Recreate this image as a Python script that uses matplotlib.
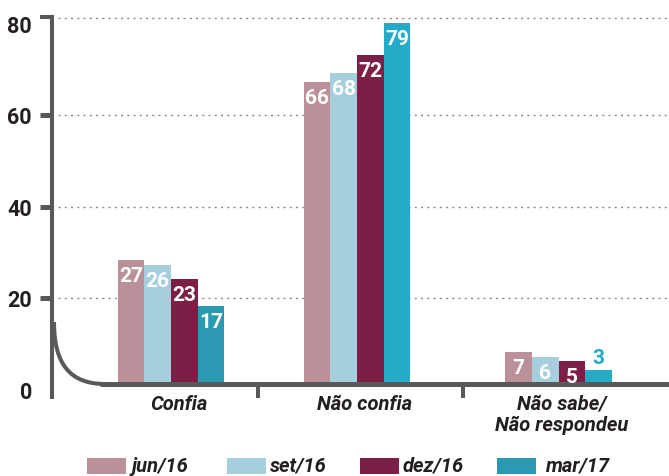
import matplotlib
matplotlib.use('Agg')
import matplotlib.pyplot as plt
from matplotlib.patches import Rectangle, PathPatch
from matplotlib.path import Path

# ---- data ----
categories = ['Confia', 'Não confia', 'Não sabe/\nNão respondeu']
series = ['jun/16', 'set/16', 'dez/16', 'mar/17']
jun16 = [27, 66, 7]
set16 = [26, 68, 6]
dez16 = [23, 72, 5]
mar17 = [17, 79, 3]
yticks = [0, 20, 40, 60, 80]

# ---- style ----
plt.rcParams['font.family'] = ['Roboto', 'DejaVu Sans']
colors = ['#BB9199', '#A6CFDD', '#7B1F47', '#2B99B1']
mar_colors = ['#2B99B1', '#23ABC7', '#23ABC7']
axc = '#58595B'
txtc = '#231F20'

W, H = 669, 477
fig = plt.figure(figsize=(W / 100, H / 100), dpi=100)
top_px, bot_px = 16, 400
ax = fig.add_axes([52 / W, 1 - bot_px / H, (W - 52) / W, (bot_px - top_px) / H])


def v(p):
    """pixel row -> data value"""
    return (390.5 - p) / 4.575


ax.set_xlim(52, 669)
ax.set_ylim(v(bot_px), v(top_px))
for s in ax.spines.values():
    s.set_visible(False)
ax.set_xticks([])
ax.set_yticks(yticks)
ax.set_yticklabels([str(t) for t in yticks], fontsize=15.5, fontweight='bold', color=txtc)
ax.tick_params(axis='y', length=8.6, width=3.6, color=axc, pad=5.8)
ticks = ax.yaxis.get_major_ticks()
ticks[0].tick1line.set_visible(False)
ticks[-1].tick1line.set_visible(False)

# left axis with top stub
ax.plot([40, 52, 52], [v(18.3), v(18.3), v(400)], color=axc, lw=2.9,
        solid_joinstyle='miter', solid_capstyle='butt', clip_on=False, zorder=5)

# dotted gridlines
for t in yticks[1:-1]:
    ax.plot([58, 669], [t, t], color='#8C8C8C', lw=1.0, ls=(0, (1.5, 3.0)), zorder=1, clip_on=False)
ax.plot([58, 669], [v(18.8)] * 2, color='#8C8C8C', lw=1.0, ls=(0, (1.5, 3.0)), zorder=1, clip_on=False)

# baseline and curve
base = v(385)
verts = [(54, v(323)), (54, v(365)), (70, v(385)), (105, v(385))]
curve = Path(verts, [Path.MOVETO, Path.CURVE4, Path.CURVE4, Path.CURVE4])
ax.add_patch(PathPatch(curve, fill=False, ec=axc, lw=2.9, zorder=5, clip_on=False))
ax.plot([100, 669], [base, base], color=axc, lw=3.6, solid_capstyle='butt', zorder=5, clip_on=False)
for tx in [257.5, 463]:
    ax.plot([tx, tx], [base, v(399)], color=axc, lw=2.9, solid_capstyle='butt', zorder=5, clip_on=False)

# bars
centers = [171, 357, 558.5]
label_x = [179, 365, 562]
bw = 26.6
offs = [-1.5, -0.5, 0.5, 1.5]
data = [jun16, set16, dez16, mar17]
for i, vals in enumerate(data):
    for j, val in enumerate(vals):
        x = centers[j] + offs[i] * bw
        col = mar_colors[j] if i == 3 else colors[i]
        ax.bar(x, val, width=bw, bottom=base, color=col, zorder=3, clip_on=False)
        if val >= 4:
            ax.annotate(str(val), (x, base + val), xytext=(0, -6), textcoords='offset pixels',
                        ha='center', va='top', color='white', fontsize=15, fontweight='bold',
                        zorder=6)
        else:
            ax.annotate(str(val), (x, base + val), xytext=(0, 3), textcoords='offset pixels',
                        ha='center', va='bottom', color=col, fontsize=15, fontweight='bold',
                        zorder=6)

# category labels
for cx, cat in zip(label_x, categories):
    ax.text(cx, v(395), cat, ha='center', va='top', fontsize=14.5, fontweight='bold',
            fontstyle='italic', color=txtc, linespacing=1.12, clip_on=False)

# legend
patch_x = [87, 227, 360, 497]
text_x = [132, 270, 403, 546]
for px, tx, name, col in zip(patch_x, text_x, series, colors):
    fig.add_artist(Rectangle((px / W, 1 - 474.5 / H), 39 / W, 15.5 / H, transform=fig.transFigure,
                             color=col, lw=0))
    fig.text(tx / W, 1 - 466.5 / H, name, ha='left', va='center', fontsize=14.5,
             fontweight='bold', fontstyle='italic', color=txtc)

fig.savefig('out.png', dpi=100)
